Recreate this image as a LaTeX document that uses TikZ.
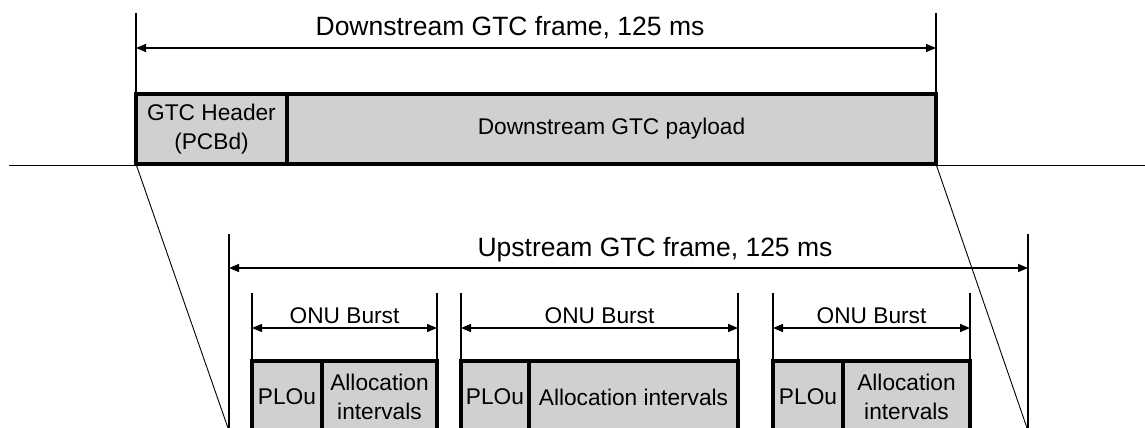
\documentclass[tikz,border=0pt]{standalone}
\usepackage{fontspec}
\setmainfont{Liberation Sans}
\usetikzlibrary{arrows.meta}
\definecolor{boxgray}{RGB}{208,208,208}
\begin{document}
\begin{tikzpicture}[x=1pt,y=-1pt,
  field/.style={draw=black,fill=boxgray,line width=3.5pt,inner sep=0pt,outer sep=0pt,anchor=north west,align=center,font=\fontsize{22.7}{28.5}\selectfont},
  ext/.style={line width=1.3pt},
  dim/.style={line width=1.3pt,{Triangle[length=10pt,width=8pt]}-{Triangle[length=10pt,width=8pt]}},
  title/.style={font=\fontsize{26.5}{32}\selectfont,anchor=base,inner sep=0pt},
  blabel/.style={font=\fontsize{22.7}{28}\selectfont,anchor=base,inner sep=0pt},
  thinline/.style={line width=0.9pt}]
\useasboundingbox (0,0) rectangle (1145,428);
\clip (0,0) rectangle (1145,428);

% ---------- downstream ----------
\coordinate (hl) at (9,165);
\coordinate (hr) at (1145,165);
\draw[thinline] (hl) -- (hr);
\coordinate (diagL) at (228,428);
\coordinate (diagR) at (1027,428);
\coordinate (dsLt) at (136,13);
\coordinate (dsRt) at (936,13);
\coordinate (dsA) at (136,48);
\coordinate (dsB) at (936,48);

\node[field,minimum width=151pt,minimum height=70pt] (hdr) at (136,94) {GTC Header\\(PCBd)};
\node[field,minimum width=649pt,minimum height=70pt] (pay) at (287,94) {Downstream GTC payload};

\draw[ext] (dsLt) -- (hdr.north west);
\draw[ext] (dsRt) -- (pay.north east);
\draw[dim] (dsA) -- (dsB);
\node[title] (dst) at (510,36) {Downstream GTC frame, 125 ms};

\draw[thinline] (hdr.south west) -- (diagL);
\draw[thinline] (pay.south east) -- (diagR);

% ---------- upstream ----------
\coordinate (usLt) at (229,234);
\coordinate (usLb) at (229,428);
\coordinate (usRt) at (1028,234);
\coordinate (usRb) at (1028,428);
\coordinate (usA) at (229,268);
\coordinate (usB) at (1028,268);
\draw[ext] (usLt) -- (usLb);
\draw[ext] (usRt) -- (usRb);
\draw[dim] (usA) -- (usB);
\node[title] (ust) at (655,256) {Upstream GTC frame, 125 ms};

% burst 1
\node[field,minimum width=70pt,minimum height=72pt] (p1) at (252,361) {PLOu};
\node[field,minimum width=115pt,minimum height=72pt] (a1) at (322,361) {Allocation\\intervals};
\coordinate (b1Lt) at (252,293);
\coordinate (b1Rt) at (437,293);
\coordinate (b1A) at (252,328);
\coordinate (b1B) at (437,328);
\draw[ext] (b1Lt) -- (p1.north west);
\draw[ext] (b1Rt) -- (a1.north east);
\draw[dim] (b1A) -- (b1B);
\node[blabel] (b1t) at (344.5,323) {ONU Burst};

% burst 2
\node[field,minimum width=68pt,minimum height=72pt] (p2) at (461,361) {PLOu};
\node[field,minimum width=209pt,minimum height=72pt] (a2) at (529,361) {Allocation intervals};
\coordinate (b2Lt) at (461,293);
\coordinate (b2Rt) at (738,293);
\coordinate (b2A) at (461,328);
\coordinate (b2B) at (738,328);
\draw[ext] (b2Lt) -- (p2.north west);
\draw[ext] (b2Rt) -- (a2.north east);
\draw[dim] (b2A) -- (b2B);
\node[blabel] (b2t) at (599.5,323) {ONU Burst};

% burst 3
\node[field,minimum width=70pt,minimum height=72pt] (p3) at (773,361) {PLOu};
\node[field,minimum width=127pt,minimum height=72pt] (a3) at (843,361) {Allocation\\intervals};
\coordinate (b3Lt) at (773,293);
\coordinate (b3Rt) at (970,293);
\coordinate (b3A) at (773,328);
\coordinate (b3B) at (970,328);
\draw[ext] (b3Lt) -- (p3.north west);
\draw[ext] (b3Rt) -- (a3.north east);
\draw[dim] (b3A) -- (b3B);
\node[blabel] (b3t) at (871.5,323) {ONU Burst};
\end{tikzpicture}
\end{document}
